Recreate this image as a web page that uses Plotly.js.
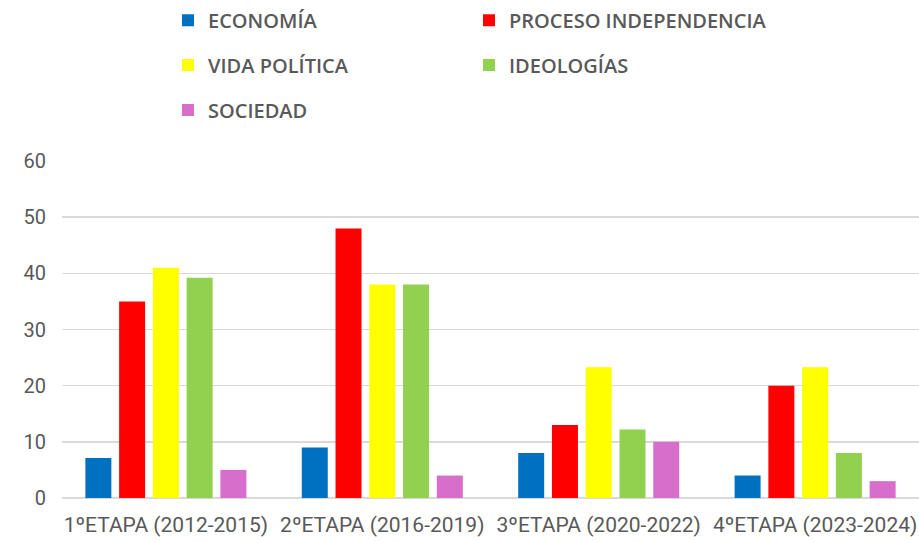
<!DOCTYPE html>
<html>
<head>
<meta charset="utf-8">
<script src="https://cdn.plot.ly/plotly-3.0.1.min.js"></script>
<style>html,body{margin:0;padding:0;background:#fff;}#chart{width:919px;height:542px;}</style>
</head>
<body>
<div id="chart"></div>
<script>
var categories = ["1ºETAPA (2012-2015)", "2ºETAPA (2016-2019)", "3ºETAPA (2020-2022)", "4ºETAPA (2023-2024)"];
var economia = [7.1, 9, 8, 4];
var proceso = [35, 48, 13, 20];
var vidaPolitica = [41, 38, 23.3, 23.3];
var ideologias = [39.2, 38, 12.2, 8];
var sociedad = [5, 4, 10, 3];
var seriesNames = ["ECONOMÍA", "PROCESO INDEPENDENCIA", "VIDA POLÍTICA", "IDEOLOGÍAS", "SOCIEDAD"];
var seriesColors = ["#0070C0", "#FF0000", "#FFFF00", "#92D050", "#D86ECC"];
var seriesLegend = ["legend", "legend", "legend2", "legend2", "legend3"];
var yTicks = [0, 10, 20, 30, 40, 50, 60];

var font = "Roboto, 'Liberation Sans', sans-serif";
var legendFont = "'Open Sans', Roboto, sans-serif";
var allValues = [economia, proceso, vidaPolitica, ideologias, sociedad];
var traces = allValues.map(function (vals, i) {
  return {
    type: "bar",
    name: seriesNames[i],
    x: categories,
    y: vals,
    marker: {color: seriesColors[i]},
    legend: seriesLegend[i],
    hoverinfo: "x+y+name"
  };
});

function legendAt(y) {
  return {
    orientation: "h",
    x: 0.1237, xanchor: "left",
    y: y, yanchor: "middle",
    entrywidth: 256, entrywidthmode: "pixels",
    font: {family: legendFont, size: 20, color: "#595959", weight: 600},
    bgcolor: "rgba(0,0,0,0)",
    itemclick: false
  };
}

var layout = {
  width: 919, height: 542,
  margin: {l: 62, r: 0, t: 161, b: 44},
  paper_bgcolor: "#fff", plot_bgcolor: "#fff",
  barmode: "group",
  bargap: 0.22,
  bargroupgap: 0.23,
  showlegend: true,
  legend: legendAt(1.418),
  legend2: legendAt(1.285),
  legend3: legendAt(1.151),
  xaxis: {
    type: "category",
    range: [-0.48, 3.48],
    tickfont: {family: font, size: 21, color: "#595959"},
    showgrid: false, zeroline: false, showline: false, ticks: "",
    ticklabelstandoff: 12
  },
  yaxis: {
    range: [0, 60],
    tickvals: yTicks,
    ticktext: yTicks.map(String),
    tickfont: {family: font, size: 20, color: "#595959"},
    gridcolor: "#D9D9D9", gridwidth: 1.5,
    zeroline: true, zerolinecolor: "#D9D9D9", zerolinewidth: 1.5,
    showline: false, ticks: "",
    ticklabelstandoff: 15
  }
};

Plotly.newPlot("chart", traces, layout, {displayModeBar: false, staticPlot: true});
</script>
</body>
</html>
